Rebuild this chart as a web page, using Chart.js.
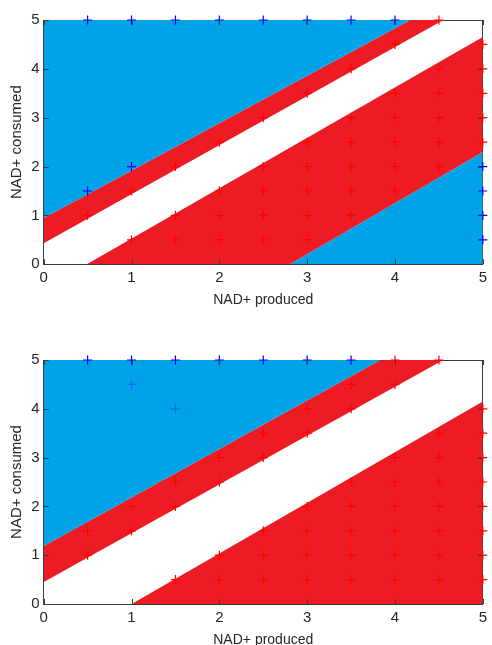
<!DOCTYPE html>
<html>
<head>
<meta charset="utf-8">
<script src="https://cdn.jsdelivr.net/npm/chart.js@4/dist/chart.umd.min.js"></script>
<style>
  html, body { margin: 0; padding: 0; background: #fff; width: 492px; height: 645px; overflow: hidden; }
  .box { position: absolute; left: 0; width: 492px; }
  #topBox { top: 0; height: 310px; }
  #botBox { top: 330px; height: 320px; }
</style>
</head>
<body>
<div class="box" id="topBox"><canvas id="topChart"></canvas></div>
<div class="box" id="botBox"><canvas id="botChart"></canvas></div>
<script>
// boundary lines, y values at x = 0 and x = 5
const xEnds = [0, 5];
const tickValues = [0, 1, 2, 3, 4, 5];

const topUpperEdge = [0.95, 5.8];
const topRedWhiteEdge = [0.43, 5.45];
const topWhiteRedEdge = [-0.505, 4.65];
const topRedBlueEdge = [-2.93, 2.3];

const botUpperEdge = [1.19, 6.16];
const botRedWhiteEdge = [0.45, 5.45];
const botWhiteRedEdge = [-1.04, 4.15];

// + markers [x, y]
const topRedPts = [
    [0.5, 1], [1, 1.5], [1.5, 2], [2, 2.5], [2.5, 3], [3, 3.5], [3.5, 4], [4, 4.5], [4.5, 5],
    [1, 0.5], [1.5, 1], [1.5, 0.5], [2, 1.5], [2, 1], [2, 0.5],
    [2.5, 2], [2.5, 1.5], [2.5, 1], [2.5, 0.5],
    [3, 2.5], [3, 2], [3, 1.5], [3, 1], [3, 0.5],
    [3.5, 3], [3.5, 2.5], [3.5, 2], [3.5, 1.5], [3.5, 1],
    [4, 3.5], [4, 3], [4, 2.5], [4, 2], [4, 1.5],
    [4.5, 4], [4.5, 3.5], [4.5, 3], [4.5, 2.5], [4.5, 2],
    [5, 4.5], [5, 4], [5, 3.5], [5, 3], [5, 2.5]
];
const topBluePts = [
    [0.5, 5], [1, 5], [1.5, 5], [2, 5], [2.5, 5], [3, 5], [3.5, 5], [4, 5],
    [5, 2], [5, 1.5], [5, 1], [5, 0.5],
    [0.5, 1.5], [1, 2]
];
const topFaintPts = [];

const botRedPts = [
    [0.5, 1.5], [0.5, 1], [1, 2], [1, 1.5], [1.5, 2.5], [1.5, 2], [2, 3], [2, 2.5],
    [2.5, 3.5], [2.5, 3], [3, 4], [3, 3.5], [3.5, 4.5], [3.5, 4], [4, 5], [4, 4.5], [4.5, 5],
    [1.5, 0.5], [2, 1], [2, 0.5],
    [2.5, 1.5], [2.5, 1], [2.5, 0.5],
    [3, 2], [3, 1.5], [3, 1], [3, 0.5],
    [3.5, 2.5], [3.5, 2], [3.5, 1.5], [3.5, 1], [3.5, 0.5],
    [4, 3], [4, 2.5], [4, 2], [4, 1.5], [4, 1], [4, 0.5],
    [4.5, 3.5], [4.5, 3], [4.5, 2.5], [4.5, 2], [4.5, 1.5], [4.5, 1], [4.5, 0.5],
    [5, 4], [5, 3.5], [5, 3], [5, 2.5], [5, 2], [5, 1.5], [5, 1], [5, 0.5]
];
const botBluePts = [
    [0.5, 5], [1, 5], [1.5, 5], [2, 5], [2.5, 5], [3, 5], [3.5, 5]
];
const botFaintPts = [[1, 4.5], [1.5, 4]];

const BLUE = '#00a2e8';
const RED = '#ed1c24';
const FRAME = '#3c3c3c';
const FONT = "'Liberation Sans', Arial, sans-serif";

function toXY(pairs) {
    return pairs.map(p => ({ x: p[0], y: p[1] }));
}
function edgeLine(ys) {
    return xEnds.map((x, i) => ({ x: x, y: ys[i] }));
}
function markers(pairs, color) {
    return {
        data: toXY(pairs),
        pointStyle: 'cross',
        pointRadius: 4.5,
        pointBorderWidth: 1.2,
        pointBorderColor: color,
        showLine: false,
        clip: false
    };
}
function region(ys, fill, color) {
    return {
        data: edgeLine(ys),
        showLine: true,
        borderWidth: 0,
        pointRadius: 0,
        fill: fill,
        backgroundColor: color,
        clip: 0
    };
}

// short tick marks pointing into the plot, on all four sides
const innerTicks = {
    id: 'innerTicks',
    afterDraw(chart) {
        const { ctx, chartArea: a, scales } = chart;
        ctx.save();
        ctx.strokeStyle = FRAME;
        ctx.lineWidth = 1;
        ctx.beginPath();
        tickValues.forEach(v => {
            const px = Math.round(scales.x.getPixelForValue(v)) + 0.5;
            const py = Math.round(scales.y.getPixelForValue(v)) + 0.5;
            ctx.moveTo(px, a.bottom); ctx.lineTo(px, a.bottom - 5);
            ctx.moveTo(px, a.top); ctx.lineTo(px, a.top + 5);
            ctx.moveTo(a.left, py); ctx.lineTo(a.left + 5, py);
            ctx.moveTo(a.right, py); ctx.lineTo(a.right - 5, py);
        });
        ctx.stroke();
        ctx.restore();
    }
};

function makeChart(id, datasets, pad, xHeight) {
    new Chart(document.getElementById(id), {
        type: 'scatter',
        data: { datasets: datasets },
        plugins: [innerTicks],
        options: {
            responsive: true,
            maintainAspectRatio: false,
            animation: false,
            events: [],
            layout: { padding: pad },
            plugins: { legend: { display: false }, tooltip: { enabled: false } },
            scales: {
                x: {
                    type: 'linear', position: 'bottom', min: 0, max: 5,
                    afterBuildTicks: s => { s.ticks = tickValues.map(v => ({ value: v })); },
                    afterFit: s => { s.height = xHeight; },
                    grid: { display: false, drawTicks: false },
                    border: { display: true, color: FRAME, width: 1 },
                    ticks: { padding: 5, color: '#262626', font: { family: FONT, size: 15 } },
                    title: {
                        display: true, text: 'NAD+ produced', color: '#262626',
                        padding: { top: 0, bottom: 1 },
                        font: { family: FONT, size: 14 }
                    }
                },
                y: {
                    type: 'linear', position: 'left', min: 0, max: 5,
                    afterBuildTicks: s => { s.ticks = tickValues.map(v => ({ value: v })); },
                    afterFit: s => { s.width = 43.7; },
                    grid: { display: false, drawTicks: false },
                    border: { display: true, color: FRAME, width: 1 },
                    ticks: { padding: 4, color: '#262626', font: { family: FONT, size: 15 } },
                    title: {
                        display: true, text: 'NAD+ consumed', color: '#262626',
                        padding: { top: 8, bottom: 0 },
                        font: { family: FONT, size: 15 }
                    }
                },
                x2: {
                    type: 'linear', position: 'top', min: 0, max: 5,
                    afterFit: s => { s.height = 0; },
                    grid: { display: false, drawTicks: false },
                    border: { display: true, color: FRAME, width: 1 },
                    ticks: { display: false }
                },
                y2: {
                    type: 'linear', position: 'right', min: 0, max: 5,
                    afterFit: s => { s.width = 0; },
                    grid: { display: false, drawTicks: false },
                    border: { display: true, color: FRAME, width: 1 },
                    ticks: { display: false }
                }
            }
        }
    });
}

// top panel
makeChart('topChart', [
    markers(topRedPts, '#ff0000'),
    markers(topBluePts, '#0000ff'),
    markers(topFaintPts, 'rgba(0,0,255,0.3)'),
    region(topUpperEdge, 'end', BLUE),
    region(topRedWhiteEdge, '-1', RED),
    region(topWhiteRedEdge, '+1', RED),
    region(topRedBlueEdge, 'start', BLUE)
], { top: 20, right: 6.3, left: 0, bottom: 0 }, 45.7);

// bottom panel
makeChart('botChart', [
    markers(botRedPts, '#ff0000'),
    markers(botBluePts, '#0000ff'),
    markers(botFaintPts, 'rgba(0,0,255,0.3)'),
    region(botUpperEdge, 'end', BLUE),
    region(botRedWhiteEdge, '-1', RED),
    region(botWhiteRedEdge, 'start', RED)
], { top: 30, right: 5.3, left: 0, bottom: 0 }, 46);
</script>
</body>
</html>
